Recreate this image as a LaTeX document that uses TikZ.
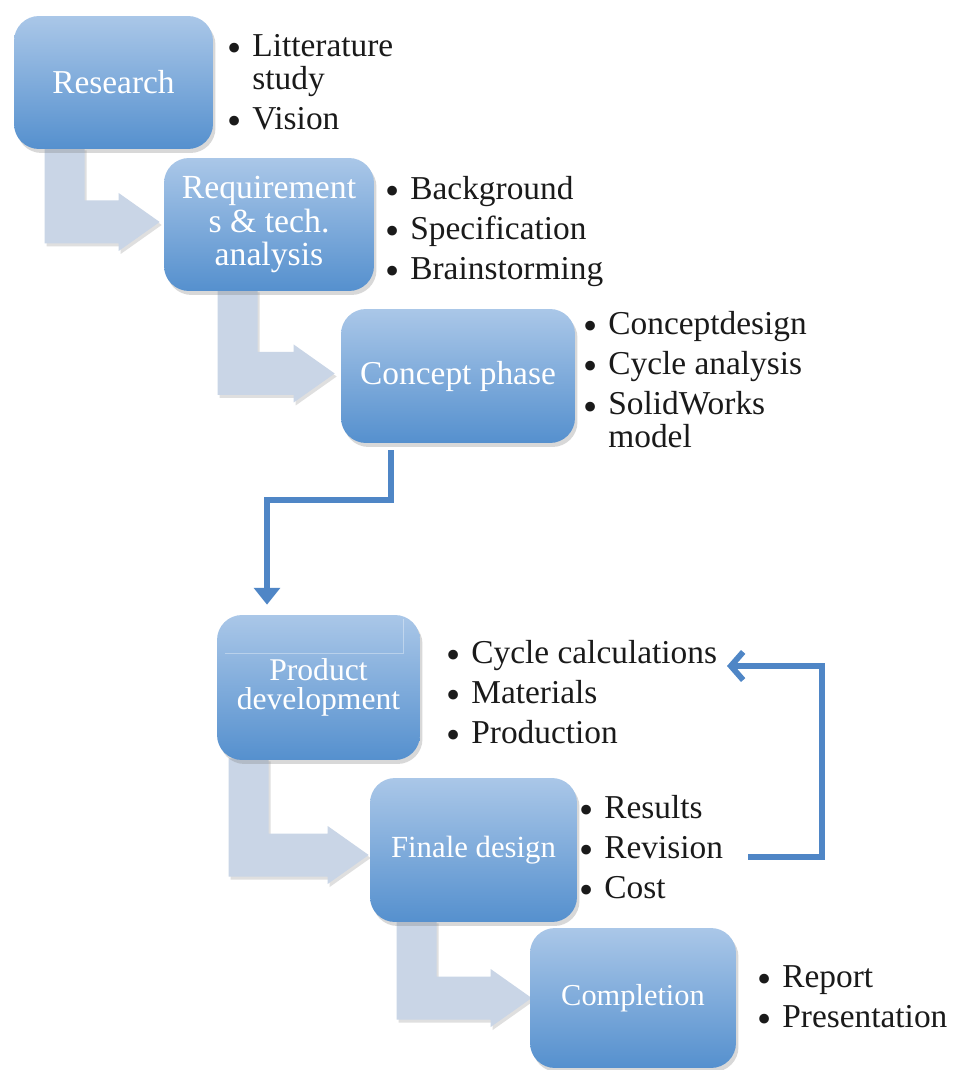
\documentclass[tikz,border=0pt]{standalone}
\usepackage{fontspec}
\setmainfont{Liberation Serif}
\usetikzlibrary{arrows.meta,shadows,calc}
\pgfdeclarelayer{back}
\pgfdeclarelayer{bg}
\pgfsetlayers{back,bg,main}
\definecolor{boxtop}{HTML}{AAC7E8}
\definecolor{boxbot}{HTML}{5590CE}
\definecolor{grayarr}{HTML}{C9D5E6}
\definecolor{flowblue}{HTML}{4F86C6}
\definecolor{txt}{HTML}{1A1A1A}
\tikzset{
  stagebox/.style={rounded corners=0.5cm, top color=boxtop, bottom color=boxbot,
    draw=none, text=white, align=center, inner sep=0pt,
    drop shadow={opacity=0.3, shadow xshift=0.05cm, shadow yshift=-0.08cm}},
  bigarrow/.style={fill=grayarr, draw=none,
    drop shadow={opacity=0.25, shadow xshift=0.04cm, shadow yshift=-0.06cm}},
  bulletmark/.style={anchor=base west, inner sep=0pt, text=txt,
    font=\fontsize{19pt}{19pt}\selectfont},
  dotmark/.style={anchor=base, inner sep=0pt, text=txt,
    font=\fontsize{23pt}{23pt}\selectfont},
  flowline/.style={draw=flowblue, line width=3.3pt, -{Triangle[length=9.5pt, width=14.5pt]}},
  feedline/.style={draw=flowblue, line width=3.3pt, -{Straight Barb[length=7pt, width=16pt]}},
}
\newcommand\bitem[4]{%
  \node[dotmark] (#1b) at (#2-17,#3+5) {\textbullet};
  \node[bulletmark] (#1) at (#2,#3) {#4};
}
\newcommand\twolines[2]{{\baselineskip=18.4pt\lineskiplimit=-100pt\lineskip=0pt
  \vtop{\hbox{#1}\hbox{#2}}}}
\newcommand\grayarrow[5]{%
  \coordinate (ga-a) at ($(#1.south west)+(#3,-2)$);
  \coordinate (ga-b) at ($(ga-a)+(40,0)$);
  \coordinate (ga-t) at ($(#2.west)+(#4,#5)$);
  \coordinate (ga-ut) at ($(ga-t)+(0,-21.5)$);
  \coordinate (ga-lt) at ($(ga-t)+(0,21.5)$);
  \coordinate (ga-uh) at ($(ga-t)+(-41,-29)$);
  \coordinate (ga-lh) at ($(ga-t)+(-41,29)$);
  \path[bigarrow] (ga-a) -- (ga-b) -- (ga-b |- ga-ut) -- (ga-uh |- ga-ut) -- (ga-uh)
    -- (ga-t) -- (ga-lh) -- (ga-lh |- ga-lt) -- (ga-a |- ga-lt) -- cycle;
}
\begin{document}
\begin{tikzpicture}[x=0.02cm, y=-0.02cm]
\begin{pgfonlayer}{back}
  \fill[white] (0,0) rectangle (957,1070);
\end{pgfonlayer}
\useasboundingbox (0,0) rectangle (957,1070);

% stage boxes
\node[stagebox, minimum width=3.98cm, minimum height=2.66cm,
  font=\fontsize{19pt}{19pt}\selectfont] (research) at (113.5,82.5) {Research};
\node[stagebox, minimum width=4.2cm, minimum height=2.66cm,
  font=\fontsize{19.2pt}{18.9pt}\selectfont] (req) at (269,224.5) {Requirement\\s \& tech.\\analysis};
\node[stagebox, minimum width=4.68cm, minimum height=2.68cm,
  font=\fontsize{19pt}{19pt}\selectfont] (concept) at (458,376) {Concept phase};
\node[stagebox, minimum width=4.06cm, minimum height=2.9cm,
  font=\fontsize{18pt}{16.8pt}\selectfont] (prod) at (318.5,687.5) {Product\\development};
\node[stagebox, minimum width=4.14cm, minimum height=2.88cm,
  font=\fontsize{17.5pt}{17.5pt}\selectfont] (finale) at (473.5,850) {Finale design};
\node[stagebox, minimum width=4.12cm, minimum height=2.8cm,
  font=\fontsize{17.3pt}{17.3pt}\selectfont] (compl) at (633,998) {Completion};

\draw[white, opacity=0.35, line width=0.4pt] (225,653) -- (403,653) -- (403,619);

% gray bent arrows (behind boxes)
\begin{pgfonlayer}{bg}
  \grayarrow{research}{req}{31}{-4}{-2.5}
  \grayarrow{req}{concept}{54}{-6}{-2.5}
  \grayarrow{prod}{finale}{12}{-1}{5}
  \grayarrow{finale}{compl}{27}{2}{0}
\end{pgfonlayer}

% bullet lists
\bitem{r1}{252}{57}{\twolines{Litterature}{study}}
\bitem{r2}{252}{130}{Vision}

\bitem{q1}{410}{200}{Background}
\bitem{q2}{410}{240}{Specification}
\bitem{q3}{410}{280}{Brainstorming}

\bitem{c1}{608}{335}{Conceptdesign}
\bitem{c2}{608}{375}{Cycle analysis}
\bitem{c3}{608}{415}{\twolines{SolidWorks}{model}}

\bitem{p1}{471}{663}{Cycle calculations}
\bitem{p2}{471}{703}{Materials}
\bitem{p3}{471}{743}{Production}

\bitem{f1}{604}{818}{Results}
\bitem{f2}{604}{858}{Revision}
\bitem{f3}{604}{898}{Cost}

\bitem{e1}{782}{987}{Report}
\bitem{e2}{782}{1027}{Presentation}

% blue connectors
\draw[flowline] ($(concept.south)+(-67,7)$) -- ++(0,50) -| ($(prod.north)+(-51.5,-10)$);
\coordinate (fbS) at (748,857);
\coordinate (fbE) at (727,666);
\draw[feedline] (fbS) -- ++(74,0) |- (fbE);
\end{tikzpicture}
\end{document}
